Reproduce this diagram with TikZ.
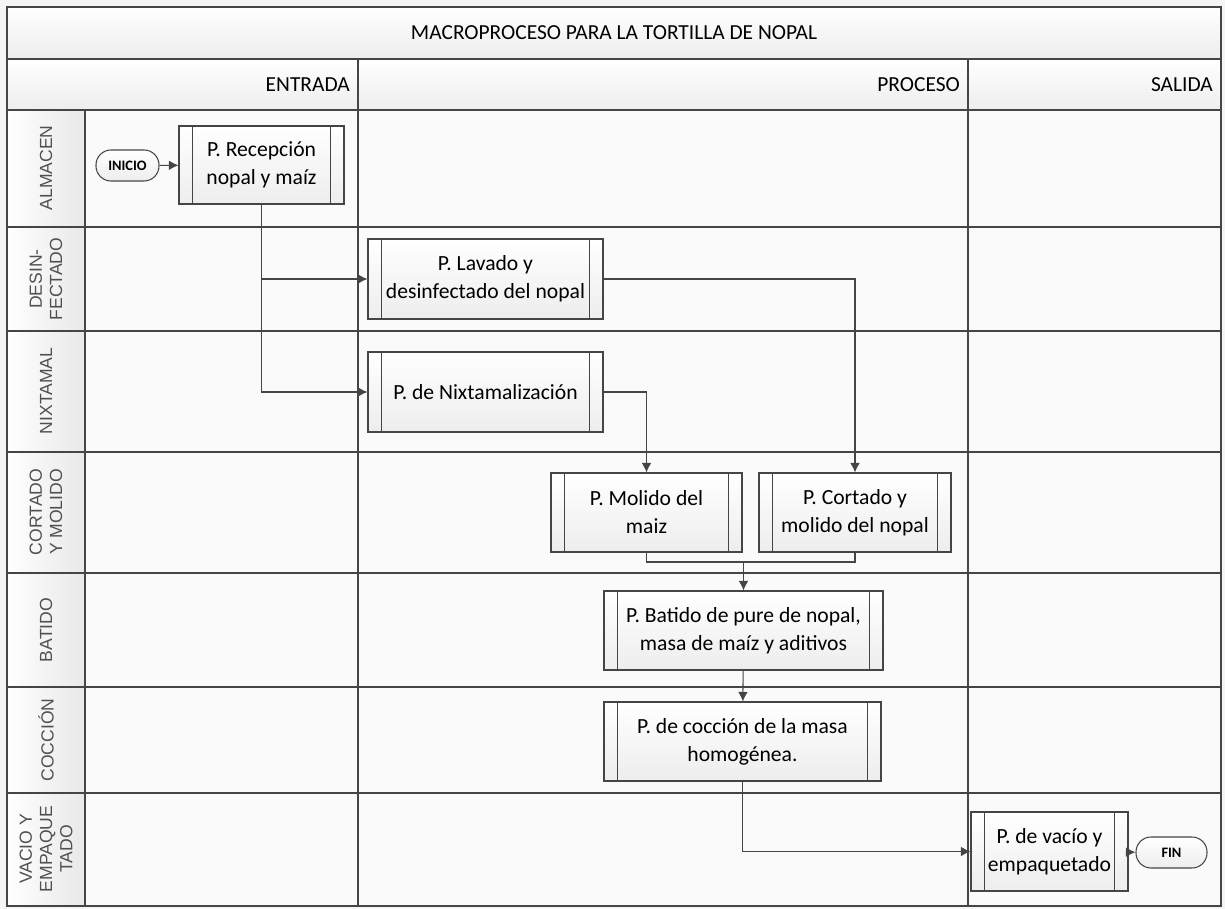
\documentclass[tikz,border=0pt]{standalone}
\usepackage{fontspec}
\setmainfont{Carlito}
\newfontfamily\lanefont{Liberation Sans}
\usetikzlibrary{arrows.meta}

\definecolor{linegray}{HTML}{454545}
\definecolor{lanetext}{HTML}{505050}

\tikzset{
	proc/.style={rectangle, draw=linegray, line width=0.6pt, top color=white, bottom color=gray!14,
		align=center, inner sep=0pt, font=\fontsize{12.3}{16}\selectfont,
		path picture={\draw[linegray, line width=0.6pt]
			([xshift=0.27cm]path picture bounding box.north west) -- ([xshift=0.27cm]path picture bounding box.south west)
			([xshift=-0.27cm]path picture bounding box.north east) -- ([xshift=-0.27cm]path picture bounding box.south east);}},
	term/.style={rectangle, rounded corners=0.3cm, draw=linegray, line width=0.6pt, top color=white, bottom color=gray!14,
		minimum height=0.62cm, inner sep=0pt, font=\fontsize{8.2}{9}\selectfont\bfseries},
	lane/.style={rotate=90, align=center, text=lanetext, font=\lanefont\fontsize{10}{11.5}\selectfont},
	head/.style={font=\fontsize{12.2}{14}\selectfont},
	flow/.style={-{Latex[length=1.9mm,width=1.9mm]}, draw=linegray, line width=0.6pt},
	grid/.style={draw=linegray, line width=0.6pt}
}

\begin{document}
\begin{tikzpicture}[x=0.2mm, y=-0.2mm]
		\useasboundingbox (0,0) rectangle (1225,909);
		\fill[gray!8] (0,0) rectangle (1225,909);

		% table background
		\fill[gray!4] (7,110) rectangle (1221,906);
		\shade[top color=white, bottom color=gray!14] (7,7) rectangle (1221,59);
		\shade[top color=white, bottom color=gray!14] (7,59) rectangle (1221,110);
		\shade[left color=white, right color=gray!18] (7,110) rectangle (85,906);

		% grid
		\draw[grid] (7,7) rectangle (1221,906);
		\draw[grid] (7,59) -- (1221,59);
		\draw[grid] (7,110) -- (1221,110);
		\foreach \y in {227,331,452,573,687,793}
			\draw[grid] (7,\y) -- (1221,\y);
		\draw[grid] (85,110) -- (85,906);
		\draw[grid] (358,59) -- (358,906);
		\draw[grid] (968,59) -- (968,906);

		% headers
		\draw
		(614,33) node [head] (title) {MACROPROCESO PARA LA TORTILLA DE NOPAL}
		(356,85) node [head, anchor=east] (entrada) {ENTRADA}
		(966,85) node [head, anchor=east] (proceso) {PROCESO}
		(1219,85) node [head, anchor=east] (salida) {SALIDA};

		% lanes
		\draw
		(46,168) node [lane] (almacen) {ALMACEN}
		(46,279) node [lane] (desin) {DESIN-\\FECTADO}
		(46,391) node [lane] (nixt) {NIXTAMAL}
		(46,512) node [lane] (corta) {CORTADO\\Y MOLIDO}
		(46,630) node [lane] (batido) {BATIDO}
		(46,740) node [lane] (coccion) {COCCIÓN}
		(46,849) node [lane] (vacio) {VACIO Y\\EMPAQUE\\TADO};

		% steps
		\draw
		(127.5,165.5) node [term, minimum width=1.26cm] (ini) {INICIO}
		(261.5,165) node [proc, minimum width=3.3cm, minimum height=1.56cm] (rec) {P. Recepción\\nopal y maíz}
		(485.5,279) node [proc, minimum width=4.7cm, minimum height=1.6cm] (lav) {P. Lavado y\\desinfectado del nopal}
		(485.5,392) node [proc, minimum width=4.7cm, minimum height=1.6cm] (nix) {P. de Nixtamalización}
		(646.5,512.5) node [proc, minimum width=3.82cm, minimum height=1.58cm] (mol) {P. Molido del\\maiz}
		(855,512.5) node [proc, minimum width=3.84cm, minimum height=1.58cm] (cor) {P. Cortado y\\molido del nopal}
		(743.5,630.5) node [proc, minimum width=5.58cm, minimum height=1.58cm] (bat) {P. Batido de pure de nopal,\\masa de maíz y aditivos}
		(742.5,741.5) node [proc, minimum width=5.54cm, minimum height=1.58cm] (coc) {P. de cocción de la masa\\homogénea.}
		(1049.5,851.5) node [proc, minimum width=3.14cm, minimum height=1.58cm] (vac) {P. de vacío y\\empaquetado}
		(1171.5,852.5) node [term, minimum width=1.42cm] (fin) {FIN};

		\coordinate (join) at (743.5,562);

		\draw[flow] (ini) -- (rec);
		\draw[flow] (rec.south) |- (lav.west);
		\draw[flow] (rec.south) |- (nix.west);
		\draw[flow] (lav.east) -| (cor.north);
		\draw[flow] (nix.east) -| (mol.north);
		\draw[grid] (mol.south) |- (join) -| (cor.south);
		\draw[flow] (join) -- (bat.north);
		\draw[flow] (bat) -- (coc);
		\draw[flow] (coc.south) |- (vac.west);
		\draw[flow] (vac) -- (fin);
	\end{tikzpicture}
\end{document}
